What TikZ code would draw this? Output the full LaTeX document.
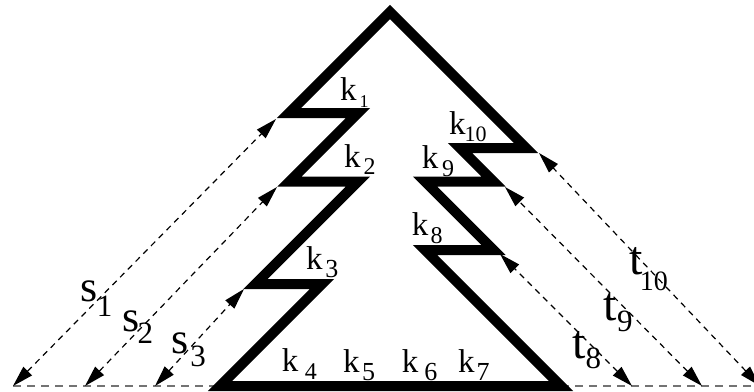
\documentclass[tikz,border=0pt]{standalone}
\usepackage{fontspec}
\setmainfont{Liberation Serif}
\usetikzlibrary{arrows.meta}
\newcommand{\lbl}[6]{{\fontsize{#1}{#1}\selectfont #2}\kern#3pt\raisebox{-#4pt}{\fontsize{#5}{#5}\selectfont #6}}
\begin{document}
\begin{tikzpicture}[x=1pt,y=-1pt,
  tree/.style={line width=10pt, line join=miter, miter limit=10},
  dimarrow/.style={line width=1.2pt, dash pattern=on 6pt off 5pt,
    {Triangle[length=21pt,width=12pt]}-{Triangle[length=21pt,width=12pt]}},
  baseln/.style={line width=2.2pt, draw=black!55, dash pattern=on 8pt off 6pt},
  lab/.style={anchor=base west, inner sep=0pt}]
\clip (0,0) rectangle (754,391);
% tree vertices
\coordinate (A) at (390,12);
\coordinate (L1) at (289,113);   \coordinate (R1) at (358,113);
\coordinate (L2) at (289.5,181.5); \coordinate (R2) at (358,181.5);
\coordinate (L3) at (255.5,284); \coordinate (R3) at (322,284);
\coordinate (BL) at (220,386);   \coordinate (BR) at (561,386);
\coordinate (L8) at (425,250);   \coordinate (R8) at (493.5,250);
\coordinate (L9) at (425,181.5); \coordinate (R9) at (493.5,181.5);
\coordinate (L10) at (460,148);  \coordinate (R10) at (526,148);
% arrow ends
\coordinate (s1a) at (276,119); \coordinate (s1b) at (13,386);
\coordinate (s2a) at (277,187); \coordinate (s2b) at (85,386);
\coordinate (s3a) at (244,289); \coordinate (s3b) at (155,386);
\coordinate (t10a) at (539,153); \coordinate (t10b) at (760,386);
\coordinate (t9a) at (505,187); \coordinate (t9b) at (702,386);
\coordinate (t8a) at (500,254); \coordinate (t8b) at (632,386);
% baseline
\draw[baseln] (s1b) -- (BL);
\draw[baseln] (BR) -- (t10b);
% dashed arrows
\draw[dimarrow] (s1b) -- (s1a);
\draw[dimarrow] (s2b) -- (s2a);
\draw[dimarrow] (s3b) -- (s3a);
\draw[dimarrow] (t10b) -- (t10a);
\draw[dimarrow] (t9b) -- (t9a);
\draw[dimarrow] (t8b) -- (t8a);
% tree
\draw[tree] (A) -- (L1) -- (R1) -- (L2) -- (R2) -- (L3) -- (R3) -- (BL)
  -- (BR) -- (L8) -- (R8) -- (L9) -- (R9) -- (L10) -- (R10) -- cycle;
% labels
\node[lab] (k1) at (340,100) {\lbl{33}{k}{3}{7}{18}{1}};
\node[lab] (k2) at (344,167.3) {\lbl{33}{k}{3}{7}{24}{2}};
\node[lab] (k3) at (306,269.3) {\lbl{33}{k}{2.7}{8.5}{26}{3}};
\node[lab] (k4) at (281.7,371.7) {\lbl{33}{k}{6.5}{7.3}{24}{4}};
\node[lab] (k5) at (343,372) {\lbl{33}{k}{2.3}{8}{26}{5}};
\node[lab] (k6) at (401.7,372) {\lbl{33}{k}{6}{8}{26}{6}};
\node[lab] (k7) at (458,372) {\lbl{33}{k}{2}{8}{26}{7}};
\node[lab] (k8) at (411.7,235) {\lbl{33}{k}{2.3}{8.3}{24}{8}};
\node[lab] (k9) at (421.7,168.3) {\lbl{33}{k}{3.8}{8.4}{24}{9}};
\node[lab] (k10) at (449,134.3) {\lbl{33}{k}{-1}{7.4}{22}{10}};
\node[lab] (s1) at (80.5,301.7) {\lbl{44}{s}{-1}{15}{31}{1}};
\node[lab] (s2) at (122,331.7) {\lbl{44}{s}{-1.6}{11.6}{31}{2}};
\node[lab] (s3) at (171,353.3) {\lbl{44}{s}{2}{13.4}{31}{3}};
\node[lab] (t10) at (629,274) {\lbl{48}{t}{-2.7}{16.7}{28}{10}};
\node[lab] (t9) at (603,320) {\lbl{48}{t}{0.7}{11.7}{31}{9}};
\node[lab] (t8) at (572,358.3) {\lbl{48}{t}{0.2}{10}{31}{8}};
\end{tikzpicture}
\end{document}
